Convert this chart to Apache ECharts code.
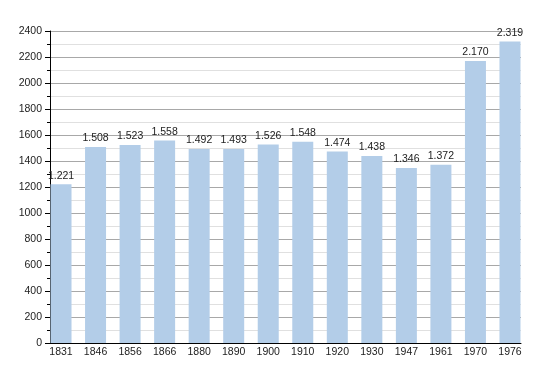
<!DOCTYPE html>
<html><head><meta charset="utf-8">
<script src="https://cdn.jsdelivr.net/npm/echarts@6/dist/echarts.min.js"></script>
<style>html,body{margin:0;padding:0;background:#fff}#c{width:550px;height:373px}</style>
</head><body><div id="c"></div>
<script>
const categories = ['1831','1846','1856','1866','1880','1890','1900','1910','1920','1930','1947','1961','1970','1976'];
const population = [1221,1508,1523,1558,1492,1493,1526,1548,1474,1438,1346,1372,2170,2319];
const yTicks = {min:0, max:2400, interval:200};

const font = 'Liberation Sans, Arial, sans-serif';
function fmt(v){ return String(v).replace(/\B(?=(\d{3})+(?!\d))/g,'.'); }

const chart = echarts.init(document.getElementById('c'));
chart.setOption({
  animation:false,
  grid:[
    {left:50, right:29, top:31, bottom:30},
    {left:43.75, right:22.75, top:31, bottom:30}
  ],
  xAxis:[
    {type:'category', gridIndex:0, data:categories, axisLabel:{show:false}, axisTick:{show:false},
     axisLine:{show:true, lineStyle:{color:'#000', width:1}}, z:5},
    {type:'category', gridIndex:1, data:categories, axisLine:{show:false}, axisTick:{show:false},
     axisLabel:{margin:4, fontFamily:font, fontSize:10.5, color:'#222'}}
  ],
  yAxis:[
    {type:'value', gridIndex:0, min:yTicks.min, max:yTicks.max, interval:yTicks.interval,
     axisLine:{show:true, lineStyle:{color:'#000'}},
     axisTick:{show:true, length:5, lineStyle:{color:'#000'}},
     minorTick:{show:true, splitNumber:2, length:3, lineStyle:{color:'#000'}},
     splitLine:{show:true, lineStyle:{color:'#a8a8a8', width:1}},
     minorSplitLine:{show:true, lineStyle:{color:'#e0e0e0', width:1}},
     axisLabel:{margin:8, fontFamily:font, fontSize:10.5, color:'#222', formatter:v=>String(v)}},
    {type:'value', gridIndex:1, min:yTicks.min, max:yTicks.max, show:false, splitLine:{show:false}}
  ],
  series:[{
    type:'bar', xAxisIndex:1, yAxisIndex:1, data:population, barWidth:21,
    itemStyle:{color:'#b3cde8'},
    label:{show:true, position:'top', distance:3, fontFamily:font, fontSize:10.5, color:'#222',
      formatter:p=>fmt(p.value)}
  }]
});
</script></body></html>
